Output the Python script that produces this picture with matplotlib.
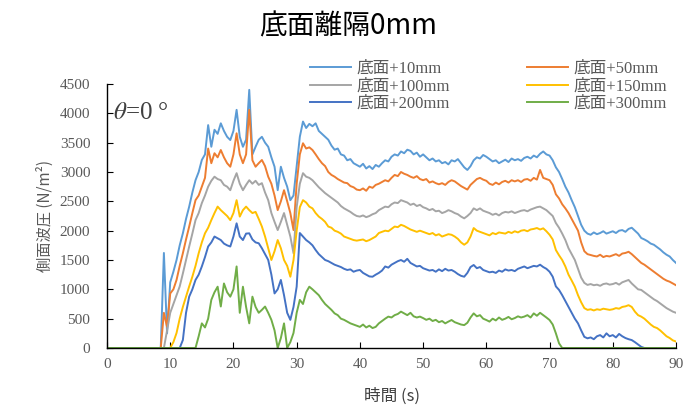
import matplotlib
matplotlib.use("Agg")
import matplotlib.pyplot as plt
import numpy as np

# sampled every 0.5 s starting at 8.5 s (value 0 before that)
t_start = 8.5
t_step = 0.5

p10 = [0, 1620, 250,
       1120, 1300, 1500, 1750, 1955, 2200, 2410, 2650, 2860, 3000,
       3205, 3300, 3800, 3430, 3720, 3650, 3830, 3700, 3600, 3545,
       3700, 4060, 3600, 3430, 3550, 4400, 3300, 3430, 3550, 3600,
       3500, 3430, 3250, 3090, 2690, 3090, 2900, 2750, 2520, 2600,
       3100, 3600, 3860, 3750, 3820, 3780, 3830, 3700, 3650, 3600,
       3550, 3450, 3380, 3400, 3300, 3280, 3200, 3220, 3150, 3120,
       3090, 3140, 3060, 3100, 3050, 3120, 3090, 3150, 3200, 3180,
       3260, 3300, 3280, 3350, 3320, 3380, 3360, 3300, 3330, 3260,
       3300, 3250, 3200, 3230, 3180, 3200, 3150, 3170, 3130, 3200,
       3180, 3220, 3150, 3080, 3035, 3100, 3200, 3250, 3230, 3290,
       3260, 3220, 3180, 3200, 3150, 3180, 3210, 3170, 3230, 3200,
       3220, 3190, 3240, 3260, 3230, 3280, 3250, 3310, 3350, 3300,
       3280, 3200, 3080, 3000, 2880, 2750, 2650, 2520, 2400, 2250,
       2100, 2000, 1950, 1930, 1970, 1940, 1960, 1990, 1950, 1970,
       1990, 1960, 2000, 2010, 1980, 2030, 2050, 2000, 1950, 1875,
       1850, 1820, 1780, 1760, 1720, 1680, 1630, 1590, 1560, 1500,
       1450]

p50 = [0, 600, 360,
       930, 1000, 1160, 1400, 1615, 1850, 2070, 2300, 2520, 2600,
       2750, 2900, 3400, 3150, 3320, 3250, 3375, 3250, 3150, 3090,
       3300, 3660, 3300, 3150, 3300, 4060, 3200, 3090, 3150, 3205,
       3100, 2920, 2800, 2600, 2350, 2500, 2690, 2500, 2300, 2010,
       2800, 3300, 3490, 3400, 3420, 3375, 3300, 3220, 3150, 3100,
       3000, 2950, 2920, 2880, 2850, 2820, 2810, 2760, 2740, 2700,
       2690, 2720, 2680, 2750, 2730, 2780, 2800, 2830, 2860, 2840,
       2900, 2950, 2930, 3000, 2970, 2950, 2920, 2900, 2930, 2880,
       2860, 2880, 2820, 2840, 2810, 2790, 2810, 2780, 2830, 2860,
       2840, 2800, 2760, 2730, 2700, 2780, 2830, 2880, 2900, 2870,
       2850, 2800, 2780, 2820, 2790, 2830, 2850, 2820, 2860, 2840,
       2860, 2830, 2870, 2880, 2850, 2900, 2870, 3035, 2900, 2880,
       2860, 2780, 2620, 2550, 2450, 2380, 2300, 2200, 2100, 2000,
       1800, 1650, 1600, 1585, 1570, 1560, 1590, 1550, 1570, 1560,
       1580, 1600, 1570, 1610, 1620, 1640, 1600, 1550, 1500, 1450,
       1420, 1380, 1340, 1300, 1260, 1220, 1180, 1150, 1130, 1100,
       1070]

p100 = [0, 0, 300,
        600, 750, 900, 1050, 1270, 1500, 1730, 1950, 2180, 2300,
        2470, 2600, 2750, 2850, 2920, 2880, 2860, 2780, 2750, 2690,
        2850, 2980, 2800, 2690, 2780, 2860, 2800, 2850, 2780, 2810,
        2650, 2520, 2300, 2150, 2010, 2150, 2300, 2100, 1900, 1615,
        2400, 2800, 2980, 2920, 2900, 2860, 2800, 2740, 2690, 2640,
        2600, 2560, 2520, 2480, 2420, 2380, 2350, 2320, 2280, 2250,
        2240, 2260, 2230, 2250, 2280, 2300, 2350, 2380, 2410, 2400,
        2450, 2480, 2470, 2520, 2500, 2480, 2440, 2460, 2420, 2440,
        2400, 2380, 2350, 2370, 2330, 2340, 2300, 2320, 2350, 2330,
        2300, 2280, 2240, 2210, 2250, 2300, 2380, 2350, 2380, 2340,
        2320, 2300, 2270, 2290, 2260, 2300, 2320, 2310, 2330, 2300,
        2320, 2340, 2350, 2330, 2360, 2380, 2400, 2410, 2380, 2350,
        2300, 2250, 2130, 2050, 1950, 1840, 1700, 1600, 1500, 1350,
        1200, 1110, 1075, 1090, 1070, 1080, 1060, 1090, 1100, 1080,
        1090, 1110, 1080, 1120, 1140, 1160, 1100, 1050, 1000, 990,
        950, 910, 870, 830, 800, 760, 720, 680, 650, 620,
        600]

p150 = [0, 0, 0,
        0, 100, 256, 500, 700, 875, 1050, 1215, 1400, 1615,
        1800, 1955, 2050, 2180, 2300, 2410, 2350, 2300, 2250, 2180,
        2300, 2520, 2240, 2350, 2410, 2350, 2300, 2320, 2200, 2070,
        1900, 1700, 1500, 1650, 1840, 1700, 1500, 1400, 1215, 1500,
        2000, 2400, 2520, 2480, 2410, 2380, 2300, 2240, 2200, 2150,
        2070, 2050, 2000, 1980, 1950, 1900, 1880, 1860, 1840, 1830,
        1840, 1850, 1820, 1840, 1870, 1900, 1960, 1980, 2000, 1990,
        2030, 2070, 2060, 2100, 2080, 2050, 2020, 2000, 1980, 2000,
        1980, 1960, 1940, 1960, 1920, 1940, 1900, 1920, 1940, 1930,
        1900, 1860, 1800, 1760, 1800, 1900, 2045, 2000, 1980, 1960,
        1940, 1920, 1960, 1940, 1970, 1960, 1950, 1980, 1960, 1990,
        1970, 2000, 2010, 1990, 2020, 2030, 2045, 2020, 2040, 1990,
        1930, 1850, 1670, 1580, 1500, 1390, 1250, 1150, 1045, 900,
        780, 680, 650, 660, 640, 660, 650, 670, 660, 650,
        660, 680, 670, 700, 710, 730, 700, 620, 560, 535,
        500, 450, 400, 360, 340, 300, 250, 200, 170, 130,
        110]

p200 = [0, 0, 0,
        0, 0, 0, 0, 136, 600, 875, 1000, 1160, 1250,
        1390, 1550, 1730, 1800, 1900, 1870, 1840, 1780, 1750, 1730,
        1900, 2125, 1900, 1840, 1950, 1955, 1850, 1800, 1785, 1700,
        1600, 1500, 1250, 930, 1000, 1160, 900, 600, 480, 700,
        1045, 1960, 1900, 1840, 1800, 1750, 1670, 1600, 1550, 1500,
        1480, 1450, 1420, 1400, 1380, 1350, 1330, 1340, 1300, 1320,
        1330, 1280, 1250, 1220, 1215, 1250, 1280, 1320, 1390, 1370,
        1420, 1450, 1480, 1500, 1470, 1520, 1450, 1420, 1390, 1400,
        1360, 1340, 1320, 1330, 1300, 1340, 1310, 1350, 1320, 1330,
        1300, 1260, 1230, 1215, 1280, 1380, 1415, 1360, 1380, 1330,
        1310, 1290, 1300, 1280, 1320, 1300, 1340, 1320, 1330, 1310,
        1350, 1370, 1390, 1360, 1380, 1400, 1390, 1420, 1380, 1350,
        1300, 1215, 1050, 990, 900, 800, 700, 600, 500, 420,
        300, 190, 165, 180, 150, 200, 220, 180, 250, 200,
        220, 180, 240, 200, 170, 150, 135, 100, 60, 20,
        0, 0, 0, 0, 0, 0, 0, 0, 0, 0,
        0]

p300 = [0, 0, 0,
        0, 0, 0, 0, 0, 0, 0, 0, 0, 200,
        420, 350, 500, 820, 950, 1045, 707, 1100, 950, 875,
        1000, 1390, 600, 1045, 700, 420, 875, 700, 600, 650,
        707, 600, 480, 300, 0, 170, 420, 0, 100, 256,
        600, 820, 750, 950, 1045, 1000, 950, 900, 820, 750,
        700, 650, 590, 560, 500, 480, 450, 420, 400, 380,
        360, 400, 350, 380, 340, 360, 420, 460, 500, 535,
        520, 560, 580, 620, 590, 560, 600, 540, 520, 535,
        510, 480, 500, 460, 480, 440, 460, 420, 450, 477,
        440, 420, 400, 390, 430, 520, 590, 540, 560, 500,
        477, 450, 500, 470, 520, 480, 500, 530, 490, 510,
        540, 520, 535, 560, 520, 590, 550, 600, 560, 520,
        477, 400, 250, 80, 0, 0, 0, 0, 0, 0,
        0, 0, 0, 0, 0, 0, 0, 0, 0, 0,
        0, 0, 0, 0, 0, 0, 0, 0, 0, 0,
        0, 0, 0, 0, 0, 0, 0, 0, 0, 0,
        0]

labels = ["底面+10mm", "底面+50mm", "底面+100mm", "底面+150mm", "底面+200mm", "底面+300mm"]
series = [p10, p50, p100, p150, p200, p300]
colors = ["#5B9BD5", "#ED7D31", "#A5A5A5", "#FFC000", "#4472C4", "#70AD47"]

plt.rcParams['font.family'] = ['Liberation Serif', 'Noto Sans CJK JP']

fig = plt.figure(figsize=(6.97, 4.09), dpi=100)
ax = fig.add_axes([107 / 697, 61 / 409, 569 / 697, 264 / 409])

lines = []
for vals, lab, c in zip(series, labels, colors):
    t = t_start + t_step * np.arange(len(vals))
    ln, = ax.plot(np.r_[0, t], np.r_[0, vals], color=c, lw=1.4, label=lab)
    lines.append(ln)

ax.set_xlim(0, 90)
ax.set_ylim(0, 4500)
ax.set_xticks(np.arange(0, 91, 10))
ax.set_yticks(np.arange(0, 4501, 500))
for s in ['top', 'right']:
    ax.spines[s].set_visible(False)
for s in ['left', 'bottom']:
    ax.spines[s].set_color('#000000')
    ax.spines[s].set_linewidth(1.0)
ax.tick_params(direction='in', length=4, labelsize=11, colors='#000000',
               labelcolor='#595959')
ax.tick_params(axis='y', pad=12)
ax.tick_params(axis='x', pad=7)

ax.set_xlabel("時間 (s)", fontsize=12, color='#404040', labelpad=12,
              family=['Noto Sans CJK JP'])
ax.set_ylabel("側面波圧 (N/m²)", fontsize=11, color='#595959', labelpad=4,
              family=['Noto Sans CJK JP'])

fig.text(0.5, 0.935, "底面離隔0mm", ha='center', va='center', fontsize=20,
         family=['Noto Sans CJK JP'], color='#000000')

ax.text(0.01, 0.89, r"$\theta$=0 °", transform=ax.transAxes, fontsize=18,
        color='#404040', math_fontfamily='stix', va='center')

order = [0, 2, 4, 1, 3, 5]
fig.legend([lines[i] for i in order], [labels[i] for i in order], ncol=2,
           loc='upper left', bbox_to_anchor=(303 / 697, 1 - 54 / 409),
           frameon=False, fontsize=12, handlelength=2.5, handletextpad=0.3,
           columnspacing=4.6, labelspacing=0.1, borderaxespad=0,
           labelcolor='#595959')

fig.savefig("out.png", dpi=100)
